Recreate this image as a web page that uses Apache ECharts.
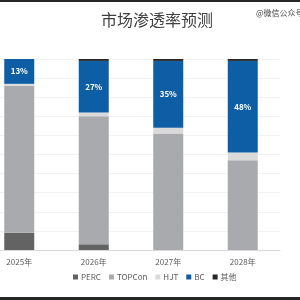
<!DOCTYPE html>
<html>
<head>
<meta charset="utf-8">
<script src="https://cdn.jsdelivr.net/npm/echarts@6/dist/echarts.min.js"></script>
<style>
  html, body { margin: 0; padding: 0; background: #fff; overflow: hidden; }
  #wrap { position: relative; width: 300px; height: 300px; overflow: hidden; }
  /* the original chart is cropped on the left, so the canvas sits 18px off-screen */
  #main { position: absolute; left: -18px; top: 0; width: 318px; height: 300px; }
</style>
</head>
<body>
<div id="wrap"><div id="main"></div></div>
<script>
var years = ['2025年', '2026年', '2027年', '2028年'];
var perc = [9, 3, 0, 0];
var topcon = [77, 67, 61, 47];
var hjt = [1, 2, 3, 4];
var bc = [13, 27, 35, 48];
var other = [0, 1, 1, 1];

var font = '"Noto Sans CJK SC", "Noto Sans", sans-serif';
var dx = 18; // canvas offset

var chart = echarts.init(document.getElementById('main'));

function bar(name, data, color, label) {
  return {
    name: name,
    type: 'bar',
    stack: 'total',
    barWidth: 30,
    data: data,
    itemStyle: { color: color },
    label: label || { show: false }
  };
}

var option = {
  animation: false,
  textStyle: { fontFamily: font },
  title: {
    text: '市场渗透率预测',
    left: 96 + dx,
    top: 7,
    textStyle: { fontSize: 16, fontWeight: 'normal', color: '#404040', fontFamily: font }
  },
  graphic: [
    { type: 'rect', shape: { x: 0, y: 0, width: 318, height: 2 }, style: { fill: '#262626' } },
    { type: 'rect', shape: { x: 0, y: 297, width: 318, height: 3 }, style: { fill: '#262626' } },
    {
      type: 'text', left: 256 + dx, top: 9,
      style: { text: '@微信公众号', fontSize: 8, fill: '#404040', fontFamily: font }
    }
  ],
  legend: {
    bottom: 14,
    left: 68 + dx,
    itemWidth: 5,
    itemHeight: 5,
    itemGap: 8,
    icon: 'rect',
    textStyle: { fontSize: 8, color: '#595959', padding: [0, 0, 0, -2] },
    data: ['PERC', 'TOPCon', 'HJT', 'BC', '其他']
  },
  grid: { left: 0, right: 20, top: 59, bottom: 50 },
  xAxis: {
    type: 'category',
    data: years,
    axisLine: { lineStyle: { color: '#d9d9d9' } },
    axisTick: { show: false },
    axisLabel: { fontSize: 8, color: '#595959', margin: 8 }
  },
  yAxis: {
    type: 'value',
    min: 0,
    max: 100,
    interval: 10,
    axisLabel: { show: false },
    axisLine: { show: false },
    splitLine: { lineStyle: { color: '#f2f2f2' } }
  },
  series: [
    bar('PERC', perc, '#636363'),
    bar('TOPCon', topcon, '#a9aaad'),
    bar('HJT', hjt, '#dadada'),
    bar('BC', bc, '#0e5ea6', {
      show: true, position: 'inside', formatter: '{c}%',
      color: '#fff', fontSize: 8, fontWeight: 'bold'
    }),
    bar('其他', other, '#262626')
  ]
};

chart.setOption(option);
</script>
</body>
</html>
